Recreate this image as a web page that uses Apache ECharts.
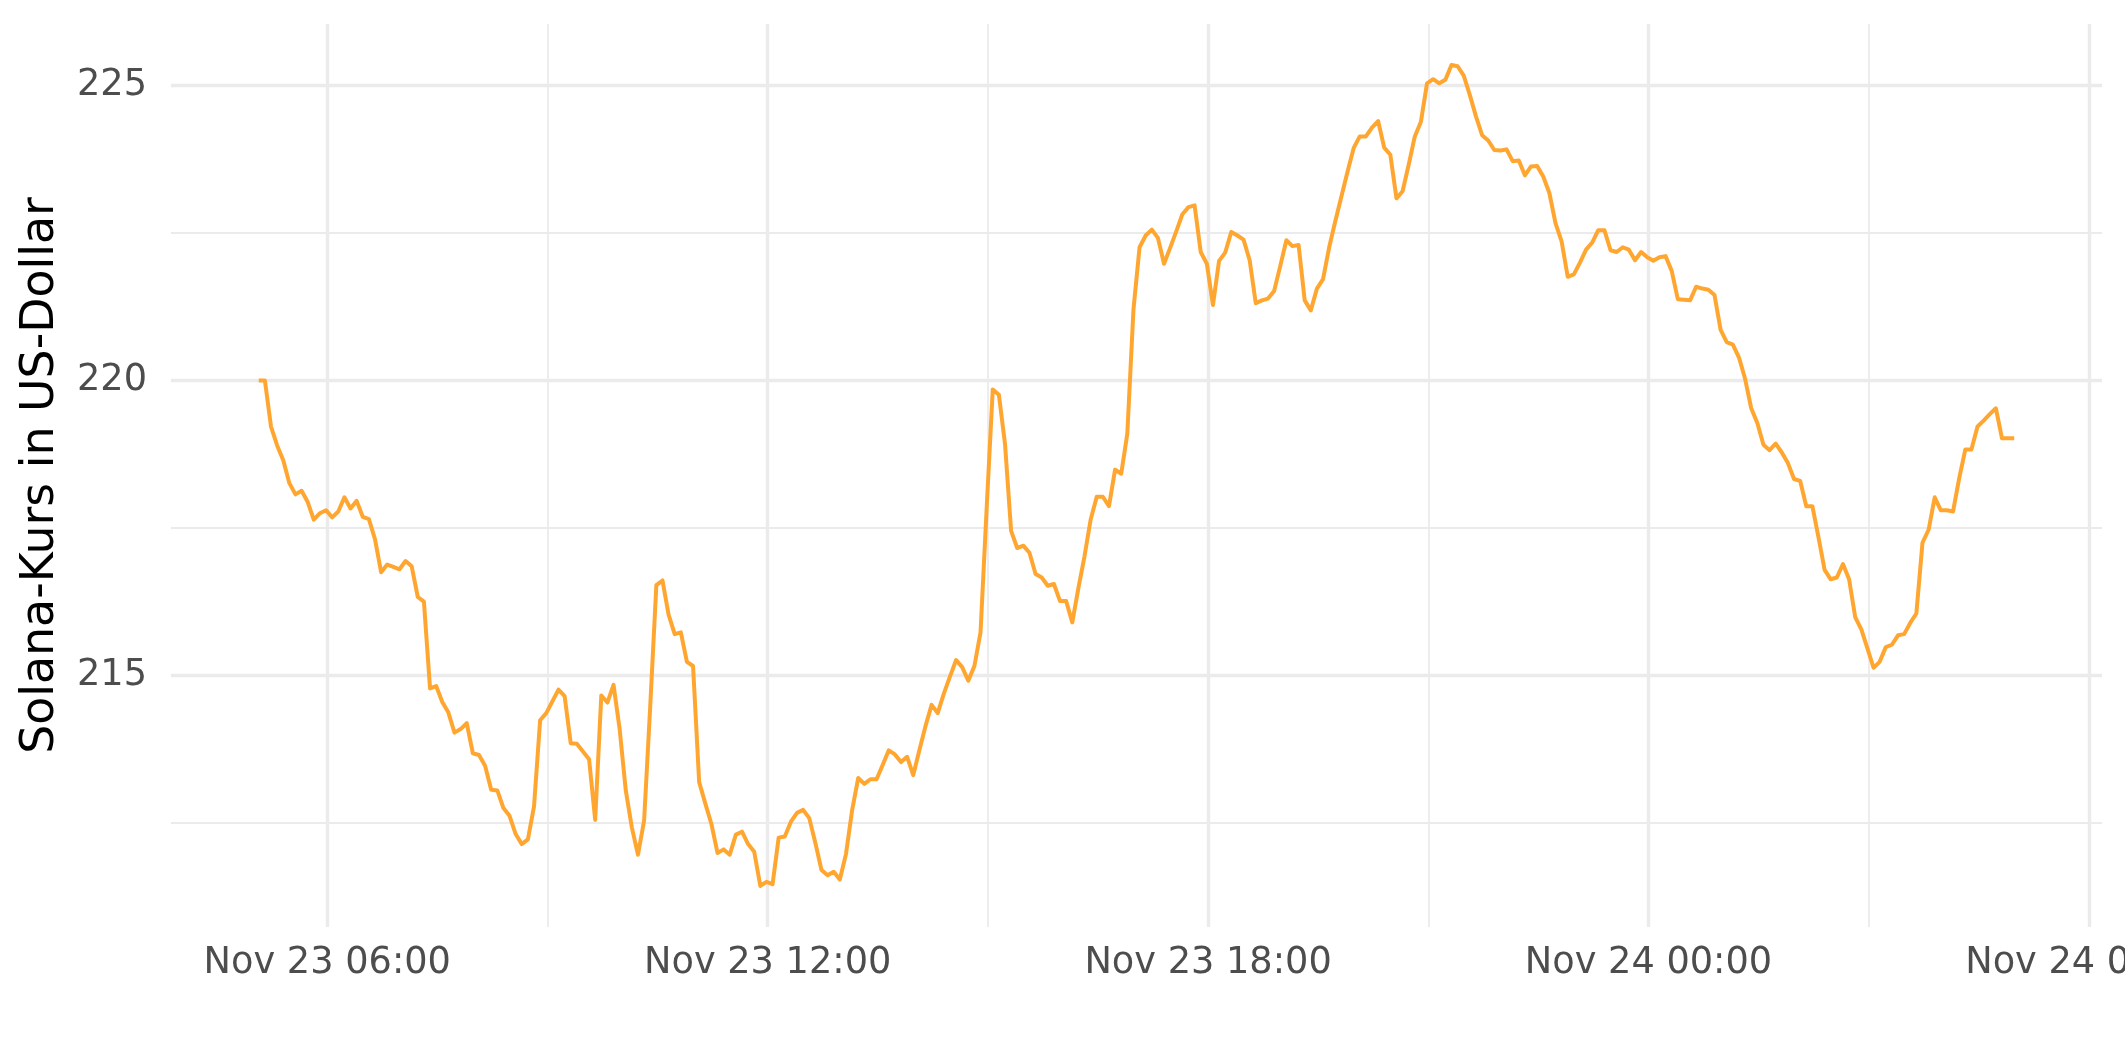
<!DOCTYPE html>
<html>
<head>
<meta charset="utf-8">
<script src="https://cdn.jsdelivr.net/npm/echarts@6/dist/echarts.min.js"></script>
<style>
html,body{margin:0;padding:0;background:#ffffff;overflow:hidden;width:2125px;height:1062px;}
#chart{width:2300px;height:1062px;}
</style>
</head>
<body>
<div id="chart"></div>
<script>
// Time stamps (day of November 2024 + local time), 5-minute readings
const times = [
'23 05:04','23 05:09','23 05:14','23 05:19','23 05:24','23 05:29','23 05:34','23 05:39','23 05:44','23 05:49','23 05:54','23 05:59',
'23 06:04','23 06:09','23 06:14','23 06:19','23 06:24','23 06:29','23 06:34','23 06:39','23 06:44','23 06:49','23 06:54','23 06:59',
'23 07:04','23 07:09','23 07:14','23 07:19','23 07:24','23 07:29','23 07:34','23 07:39','23 07:44','23 07:49','23 07:54','23 07:59',
'23 08:04','23 08:09','23 08:14','23 08:19','23 08:24','23 08:29','23 08:34','23 08:39','23 08:44','23 08:49','23 08:54','23 08:59',
'23 09:04','23 09:09','23 09:14','23 09:19','23 09:24','23 09:29','23 09:34','23 09:39','23 09:44','23 09:49','23 09:54','23 09:59',
'23 10:04','23 10:09','23 10:14','23 10:19','23 10:24','23 10:29','23 10:34','23 10:39','23 10:44','23 10:49','23 10:54','23 10:59',
'23 11:04','23 11:09','23 11:14','23 11:19','23 11:24','23 11:29','23 11:34','23 11:39','23 11:44','23 11:49','23 11:54','23 11:59',
'23 12:04','23 12:09','23 12:14','23 12:19','23 12:24','23 12:29','23 12:34','23 12:39','23 12:44','23 12:49','23 12:54','23 12:59',
'23 13:04','23 13:09','23 13:14','23 13:19','23 13:24','23 13:29','23 13:34','23 13:39','23 13:44','23 13:49','23 13:54','23 13:59',
'23 14:04','23 14:09','23 14:14','23 14:19','23 14:24','23 14:29','23 14:34','23 14:39','23 14:44','23 14:49','23 14:54','23 14:59',
'23 15:04','23 15:09','23 15:14','23 15:19','23 15:24','23 15:29','23 15:34','23 15:39','23 15:44','23 15:49','23 15:54','23 15:59',
'23 16:04','23 16:09','23 16:14','23 16:19','23 16:24','23 16:29','23 16:34','23 16:39','23 16:44','23 16:49','23 16:54','23 16:59',
'23 17:04','23 17:09','23 17:14','23 17:19','23 17:24','23 17:29','23 17:34','23 17:39','23 17:44','23 17:49','23 17:54','23 17:59',
'23 18:04','23 18:09','23 18:14','23 18:19','23 18:24','23 18:29','23 18:34','23 18:39','23 18:44','23 18:49','23 18:54','23 18:59',
'23 19:04','23 19:09','23 19:14','23 19:19','23 19:24','23 19:29','23 19:34','23 19:39','23 19:44','23 19:49','23 19:54','23 19:59',
'23 20:04','23 20:09','23 20:14','23 20:19','23 20:24','23 20:29','23 20:34','23 20:39','23 20:44','23 20:49','23 20:54','23 20:59',
'23 21:04','23 21:09','23 21:14','23 21:19','23 21:24','23 21:29','23 21:34','23 21:39','23 21:44','23 21:49','23 21:54','23 21:59',
'23 22:04','23 22:09','23 22:14','23 22:19','23 22:24','23 22:29','23 22:34','23 22:39','23 22:44','23 22:49','23 22:54','23 22:59',
'23 23:04','23 23:09','23 23:14','23 23:19','23 23:24','23 23:29','23 23:34','23 23:39','23 23:44','23 23:49','23 23:54','23 23:59',
'24 00:04','24 00:09','24 00:14','24 00:19','24 00:24','24 00:29','24 00:34','24 00:39','24 00:44','24 00:49','24 00:54','24 00:59',
'24 01:04','24 01:09','24 01:14','24 01:19','24 01:24','24 01:29','24 01:34','24 01:39','24 01:44','24 01:49','24 01:54','24 01:59',
'24 02:04','24 02:09','24 02:14','24 02:19','24 02:24','24 02:29','24 02:34','24 02:39','24 02:44','24 02:49','24 02:54','24 02:59',
'24 03:04','24 03:09','24 03:14','24 03:19','24 03:24','24 03:29','24 03:34','24 03:39','24 03:44','24 03:49','24 03:54','24 03:59',
'24 04:04','24 04:09','24 04:14','24 04:19','24 04:24','24 04:29','24 04:34','24 04:39','24 04:44','24 04:49','24 04:54','24 04:59'
];

// Solana price in US-Dollar
const prices = [
220.00,220.00,219.22,218.90,218.65,218.26,218.07,218.13,217.94,217.64,217.75,217.80,
217.68,217.78,218.02,217.83,217.96,217.69,217.65,217.31,216.75,216.88,216.84,216.80,
216.94,216.85,216.33,216.25,214.78,214.82,214.55,214.37,214.03,214.09,214.19,213.68,
213.65,213.47,213.06,213.05,212.75,212.62,212.31,212.14,212.22,212.78,214.24,214.36,
214.56,214.76,214.65,213.85,213.84,213.71,213.58,212.55,214.66,214.54,214.84,214.09,
213.05,212.42,211.96,212.54,214.48,216.53,216.61,216.03,215.70,215.73,215.23,215.16,
213.19,212.83,212.48,211.99,212.05,211.96,212.30,212.35,212.14,212.01,211.43,211.50,
211.46,212.25,212.27,212.52,212.67,212.72,212.58,212.16,211.70,211.61,211.67,211.54,
211.97,212.71,213.26,213.16,213.24,213.24,213.48,213.73,213.66,213.53,213.62,213.31,
213.73,214.14,214.50,214.36,214.69,214.98,215.26,215.14,214.91,215.16,215.73,217.83,
219.85,219.76,218.93,217.45,217.16,217.20,217.08,216.72,216.66,216.52,216.55,216.26,
216.26,215.90,216.48,217.02,217.64,218.03,218.03,217.87,218.49,218.42,219.10,221.20,
222.26,222.46,222.56,222.42,221.98,222.25,222.53,222.82,222.94,222.97,222.18,221.98,
221.28,222.03,222.17,222.52,222.46,222.39,222.04,221.31,221.36,221.39,221.52,221.94,
222.38,222.28,222.30,221.36,221.19,221.56,221.72,222.26,222.70,223.12,223.54,223.94,
224.14,224.14,224.29,224.40,223.95,223.83,223.09,223.21,223.66,224.14,224.39,225.04,
225.11,225.04,225.10,225.35,225.33,225.17,224.84,224.48,224.16,224.07,223.91,223.90,
223.92,223.72,223.73,223.48,223.63,223.64,223.46,223.18,222.67,222.36,221.76,221.80,
222.00,222.22,222.34,222.55,222.55,222.21,222.18,222.26,222.22,222.04,222.18,222.09,
222.03,222.09,222.11,221.86,221.38,221.37,221.36,221.59,221.56,221.54,221.45,220.86,
220.65,220.61,220.39,220.03,219.53,219.28,218.91,218.82,218.93,218.78,218.60,218.33,
218.30,217.87,217.87,217.34,216.79,216.63,216.66,216.89,216.63,215.99,215.78,215.46,
215.13,215.23,215.48,215.52,215.68,215.70,215.89,216.05,217.25,217.47,218.02,217.80,
217.80,217.78,218.34,218.83,218.83,219.22,219.32,219.43,219.53,219.02,219.02,219.02
];

// Axis tick positions
const xMajorTicks = ['23 06:00','23 12:00','23 18:00','24 00:00','24 06:00'];
const xMinorTicks = ['23 09:00','23 15:00','23 21:00','24 03:00'];
const yMajorTicks = [215, 220, 225];
const yMinorTicks = [212.5, 217.5, 222.5];
const monthNames = ['Jan','Feb','Mar','Apr','May','Jun','Jul','Aug','Sep','Oct','Nov','Dec'];
const yTitle = 'Solana-Kurs in US-Dollar';

const toTs = s => new Date('2024-11-' + s.slice(0, 2) + 'T' + s.slice(3) + ':00').getTime();
const pad2 = n => (n < 10 ? '0' : '') + n;
const fmtTime = v => {
  const d = new Date(v);
  return monthNames[d.getMonth()] + ' ' + d.getDate() + ' ' + pad2(d.getHours()) + ':' + pad2(d.getMinutes());
};

const ts = times.map(toTs);
const lineData = ts.map((t, i) => [t, prices[i]]);
const tFirst = ts[0], tLast = ts[ts.length - 1];
const padX = (tLast - tFirst) * 0.05;
const pMin = Math.min.apply(null, prices), pMax = Math.max.apply(null, prices);
const padY = (pMax - pMin) * 0.05;

const GRID = '#EBEBEB';
const gridLines = [];
xMajorTicks.forEach(s => gridLines.push({ xAxis: toTs(s), lineStyle: { color: GRID, width: 3.4, type: 'solid' } }));
xMinorTicks.forEach(s => gridLines.push({ xAxis: toTs(s), lineStyle: { color: GRID, width: 1.8, type: 'solid' } }));
yMajorTicks.forEach(v => gridLines.push({ yAxis: v, lineStyle: { color: GRID, width: 3.4, type: 'solid' } }));
yMinorTicks.forEach(v => gridLines.push({ yAxis: v, lineStyle: { color: GRID, width: 1.8, type: 'solid' } }));

const FONT = 'DejaVu Sans';
// The canvas is wider than the 2125px window so the last tick label is cut at the window edge
const chart = echarts.init(document.getElementById('chart'), null, { renderer: 'canvas' });
chart.setOption({
  animation: false,
  backgroundColor: '#ffffff',
  grid: { left: 171, right: 198, top: 24, bottom: 135, containLabel: false },
  xAxis: {
    type: 'value',
    min: tFirst - padX,
    max: tLast + padX,
    scale: true,
    axisLine: { show: false },
    axisTick: { show: false },
    splitLine: { show: false },
    minorSplitLine: { show: false },
    axisLabel: {
      customValues: xMajorTicks.map(toTs),
      formatter: fmtTime,
      color: '#4D4D4D',
      fontFamily: FONT,
      fontSize: 36.7,
      margin: 18,
      hideOverlap: false
    }
  },
  yAxis: {
    type: 'value',
    min: pMin - padY,
    max: pMax + padY,
    scale: true,
    axisLine: { show: false },
    axisTick: { show: false },
    splitLine: { show: false },
    axisLabel: {
      customValues: yMajorTicks,
      formatter: v => String(v),
      color: '#4D4D4D',
      fontFamily: FONT,
      fontSize: 36.7,
      margin: 24
    }
  },
  graphic: [{
    type: 'text',
    x: 41,
    y: 475.5,
    rotation: Math.PI / 2,
    silent: true,
    style: { text: yTitle, fontFamily: FONT, fontSize: 45.8, fill: '#000000', align: 'center', verticalAlign: 'middle' }
  }],
  series: [
    {
      type: 'line',
      data: [],
      z: 1,
      silent: true,
      markLine: {
        silent: true,
        animation: false,
        symbol: ['none', 'none'],
        label: { show: false },
        emphasis: { disabled: true },
        data: gridLines
      }
    },
    {
      type: 'line',
      data: lineData,
      z: 10,
      silent: true,
      symbol: 'none',
      showSymbol: false,
      lineStyle: { color: '#FFA630', width: 4, join: 'round', cap: 'butt' },
      emphasis: { disabled: true }
    }
  ]
});
</script>
</body>
</html>
